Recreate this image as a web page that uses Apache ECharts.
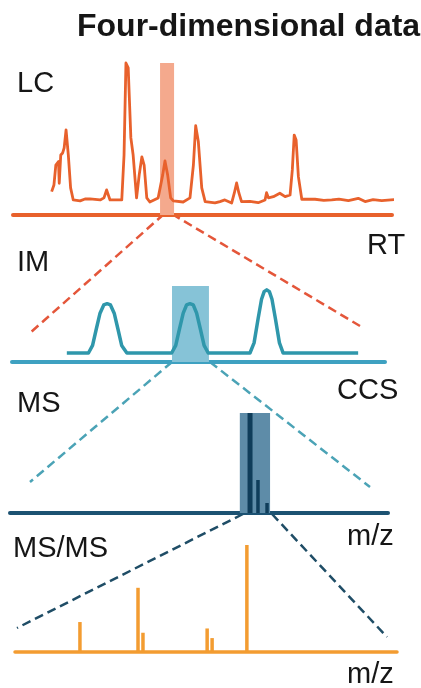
<!DOCTYPE html>
<html>
<head>
<meta charset="utf-8">
<script src="https://cdn.jsdelivr.net/npm/echarts@6/dist/echarts.min.js"></script>
<style>
  html, body { margin: 0; padding: 0; background: #fff; }
  #chart { width: 421px; height: 688px; }
</style>
</head>
<body>
<div id="chart"></div>
<script>
// LC chromatogram (retention time, signal)
const lcTime = [10.2, 10.8, 11.3, 12.0, 12.2, 12.6, 13.1, 13.5, 14.0, 14.6, 15.2, 15.9, 17.7, 19.0, 20.3, 23.0, 24.0, 24.7, 25.6, 28.7,
  29.3, 29.8, 30.4, 31.1, 31.7, 32.6, 33.3, 34.0, 34.6, 35.3, 36.1, 38.3, 39.5, 40.1, 40.8, 41.6, 42.3, 44.9, 46.7, 47.6,
  48.2, 48.9, 49.8, 50.7, 53.3, 54.6, 55.9, 57.7, 58.4, 59.0, 59.6, 60.3, 62.5, 64.7, 66.5, 66.9, 67.4, 68.7, 70.4, 71.8,
  73.1, 73.7, 74.2, 74.7, 75.3, 76.2, 79.7, 82.0, 84.1, 86.0, 88.5, 91.1, 92.9, 95.0, 97.3, 101.7];
const lcSignal = [6.1, 10.9, 25.5, 28.0, 12.2, 32.8, 34.3, 38.0, 51.1, 32.8, 8.8, 0, -0.7, 0.7, 0.7, 0, 1.5, 7.3, 0, 0,
  32.8, 100, 96.4, 45.3, 32.8, 1.5, 18.3, 31.4, 25.5, 1.5, -1.5, 1.5, 18.3, 28.5, 18.3, 1.5, -0.7, -1.5, 1.5, 25.5,
  54.2, 42.6, 8.8, -1.2, -2.2, -1.2, 0, -2.2, 5.1, 12.4, 5.1, -1.2, -1.0, -2.0, 0, 5.3, 1.5, 2.4, 4.9, 2.4,
  3.6, 21.9, 47.4, 43.8, 17.0, 0.5, 0.5, -0.3, 0, 0.6, -0.5, 1.2, -1.2, 0.2, -0.5, 0.5];
const lcWindow = [38.8, 42.5];

// ion mobility trace (CCS, signal)
const imCcs = [14.7, 20.5, 21.6, 22.6, 23.6, 24.6, 25.5, 26.4, 27.4, 28.4, 29.4, 30.8,
  42.8, 43.9, 44.9, 45.9, 46.8, 47.7, 48.6, 49.5, 50.5, 51.5, 52.6,
  63.8, 64.9, 66.0, 66.9, 67.6, 68.3, 69.0, 69.7, 70.6, 71.7, 72.7, 92.8];
const imSignal = [0, 0, 12, 38, 63, 76, 78, 76, 63, 38, 12, 0,
  0, 12, 38, 63, 76, 78, 76, 63, 38, 12, 0,
  0, 16, 55, 85, 97, 100, 97, 85, 55, 16, 0, 0];
const imWindow = [42.9, 52.8];

// MS isotope cluster
const msMz = [63.5, 65.6, 68.0];
const msIntensity = [100, 33, 10];
const msWindow = [60.8, 68.8];

// MS/MS fragments
const ms2Mz = [17.0, 32.2, 33.5, 50.3, 51.6, 60.7];
const ms2Intensity = [28, 60, 18, 22, 13, 100];

// zoom connectors, in page units of the overlay
const lcLinks = [[[164, 214], [30, 333]], [[172, 214], [360, 326]]];
const imLinks = [[[172, 362], [30, 482]], [[210, 362], [370, 487]]];
const msLinks = [[[243, 514], [17, 628]], [[272, 514], [387, 637]]];

const panelNames = ['LC', 'IM', 'MS', 'MS/MS'];
const axisNames = ['RT', 'CCS', 'm/z', 'm/z'];

const FONT = 'Liberation Sans, Arial, sans-serif';
const ORANGE = '#e8612c';
const TEAL = '#2f97ab';
const NAVY = '#0f3d5a';
const AMBER = '#f39c31';

const yRanges = [[-11, 100], [-14.2, 106], [0, 100], [0, 100]];

const chart = echarts.init(document.getElementById('chart'), null, { renderer: 'canvas' });

function label(text, left, top, bold) {
  return {
    text,
    left,
    top,
    padding: 0,
    textStyle: {
      fontFamily: FONT,
      fontSize: bold ? 32 : 29,
      fontWeight: bold ? 'bold' : 'normal',
      color: '#161616',
    },
  };
}

function panelX(gridIndex, color, width) {
  return {
    type: 'value',
    gridIndex,
    min: 0,
    max: 100,
    axisLine: { show: true, onZero: false, lineStyle: { color, width } },
    axisTick: { show: false },
    axisLabel: { show: false },
    splitLine: { show: false },
  };
}

function panelY(gridIndex) {
  return {
    type: 'value',
    gridIndex,
    min: yRanges[gridIndex][0],
    max: yRanges[gridIndex][1],
    show: false,
  };
}

function bandSeries(gridIndex, window, color) {
  const [lo, hi] = yRanges[gridIndex];
  return {
    type: 'custom',
    xAxisIndex: gridIndex,
    yAxisIndex: gridIndex,
    z: 1,
    silent: true,
    data: [[window[0], window[1]]],
    renderItem: (params, api) => {
      const a = api.coord([api.value(0), lo]);
      const b = api.coord([api.value(1), hi]);
      return {
        type: 'rect',
        shape: { x: a[0], y: b[1], width: b[0] - a[0], height: a[1] - b[1] },
        style: { fill: color },
      };
    },
  };
}

function stickSeries(gridIndex, mz, intensity, color, thick) {
  return {
    type: 'custom',
    xAxisIndex: gridIndex,
    yAxisIndex: gridIndex,
    z: 3,
    silent: true,
    data: mz.map((x, i) => [x, intensity[i]]),
    renderItem: (params, api) => {
      const x = api.value(0);
      const y = api.value(1);
      const p0 = api.coord([x, 0]);
      const p1 = api.coord([x, y]);
      return {
        type: 'line',
        shape: { x1: p0[0], y1: p0[1], x2: p1[0], y2: p1[1] },
        style: { stroke: color, lineWidth: y >= 90 ? thick : 3.5 },
      };
    },
  };
}

function linkSeries(links, color) {
  return {
    type: 'lines',
    coordinateSystem: 'cartesian2d',
    xAxisIndex: 4,
    yAxisIndex: 4,
    silent: true,
    z: 0,
    lineStyle: { color, width: 2.5, type: [9, 5], opacity: 1 },
    data: links.map((coords) => ({ coords })),
  };
}

chart.setOption({
  animation: false,
  backgroundColor: '#ffffff',
  title: [
    label('Four-dimensional data', 77, 11, true),
    label(panelNames[0], 17, 69),
    label(panelNames[1], 17, 248),
    label(panelNames[2], 17, 389),
    label(panelNames[3], 13, 534),
    label(axisNames[0], 367, 231),
    label(axisNames[1], 337, 376),
    label(axisNames[2], 347, 522),
    label(axisNames[3], 347, 660),
  ],
  grid: [
    { left: 13, top: 63, width: 379, height: 152 },
    { left: 12, top: 286, width: 373, height: 76 },
    { left: 10, top: 413, width: 378, height: 100 },
    { left: 15, top: 545, width: 382, height: 107 },
    { left: 0, top: 0, width: 421, height: 688 },
  ],
  xAxis: [
    panelX(0, ORANGE, 4),
    panelX(1, '#3ea1c1', 4),
    panelX(2, '#1c5272', 4),
    panelX(3, AMBER, 3.5),
    { type: 'value', gridIndex: 4, min: 0, max: 421, show: false },
  ],
  yAxis: [
    panelY(0),
    panelY(1),
    panelY(2),
    panelY(3),
    { type: 'value', gridIndex: 4, min: 0, max: 688, inverse: true, show: false },
  ],
  series: [
    linkSeries(lcLinks, '#e4563a'),
    linkSeries(imLinks, '#4ba3b6'),
    linkSeries(msLinks, '#1f4d66'),
    bandSeries(0, lcWindow, '#f4a98d'),
    bandSeries(1, imWindow, '#86c3d7'),
    bandSeries(2, msWindow, '#5e8ca8'),
    {
      type: 'line',
      xAxisIndex: 0,
      yAxisIndex: 0,
      z: 2,
      clip: false,
      symbol: 'none',
      lineStyle: { color: ORANGE, width: 2.8, join: 'round' },
      data: lcTime.map((t, i) => [t, lcSignal[i]]),
    },
    {
      type: 'line',
      xAxisIndex: 1,
      yAxisIndex: 1,
      z: 2,
      clip: false,
      symbol: 'none',
      lineStyle: { color: TEAL, width: 3.5, join: 'round' },
      data: imCcs.map((c, i) => [c, imSignal[i]]),
    },
    stickSeries(2, msMz, msIntensity, NAVY, 5),
    stickSeries(3, ms2Mz, ms2Intensity, AMBER, 3.5),
  ],
});
</script>
</body>
</html>
